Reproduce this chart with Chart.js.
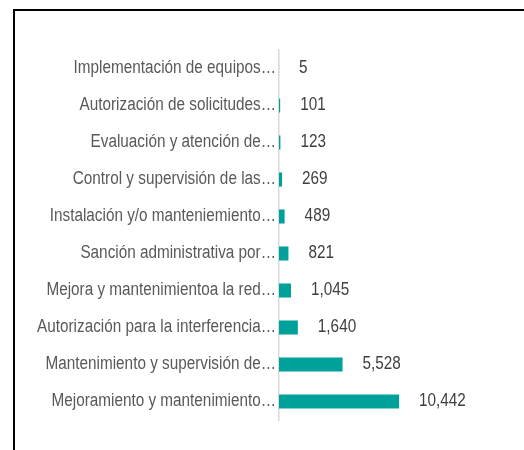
<!DOCTYPE html>
<html>
<head>
<meta charset="utf-8">
<script src="https://cdn.jsdelivr.net/npm/chart.js@4"></script>
<style>
  html, body { margin: 0; padding: 0; background: #fff; }
  #wrap { position: relative; width: 524px; height: 450px; overflow: hidden; }
  #frame {
    position: absolute; left: 13px; top: 9px; width: 600px; height: 500px;
    border-top: 2.5px solid #000; border-left: 2.5px solid #000;
    pointer-events: none;
  }
</style>
</head>
<body>
<div id="wrap">
  <canvas id="chart" width="524" height="450"></canvas>
  <div id="frame"></div>
</div>
<script>
// ===== 工单类别统计 =====

const categories = [
  'Implementación de equipos…',
  'Autorización de solicitudes…',
  'Evaluación y atención de…',
  'Control y supervisión de las…',
  'Instalación y/o manteniemiento…',
  'Sanción administrativa por…',
  'Mejora y mantenimientoa la red…',
  'Autorización para la interferencia…',
  'Mantenimiento y supervisión de…',
  'Mejoramiento y mantenimiento…'
];
const counts = [5, 101, 123, 269, 489, 821, 1045, 1640, 5528, 10442];
const xMax = 12000;

const FONT = "'Liberation Sans', Arial, sans-serif";
const NARROW = 0.85; // 窄体字效果（横向压缩）

// 横向压缩的文字
function narrowText(ctx, text, x, y, align) {
  ctx.save();
  ctx.translate(x, y);
  ctx.scale(NARROW, 1);
  ctx.textAlign = align;
  ctx.textBaseline = 'middle';
  ctx.fillText(text, 0, 0);
  ctx.restore();
}

// 类别标签 + 数值标签
const barLabels = {
  id: 'barLabels',
  afterDatasetsDraw(chart) {
    const ctx = chart.ctx;
    const yScale = chart.scales.y;
    const meta = chart.getDatasetMeta(0);
    ctx.save();
    ctx.font = '18px ' + FONT;

    ctx.fillStyle = '#595959';
    chart.data.labels.forEach((label, i) => {
      narrowText(ctx, label, chart.chartArea.left - 3, yScale.getPixelForTick(i), 'right');
    });

    ctx.fillStyle = '#404040';
    meta.data.forEach((bar, i) => {
      narrowText(ctx, counts[i].toLocaleString('en-US'), bar.x + 20, bar.y, 'left');
    });
    ctx.restore();
  }
};

new Chart(document.getElementById('chart'), {
  type: 'bar',
  data: {
    labels: categories,
    datasets: [{
      data: counts,
      backgroundColor: '#00A19A',
      borderWidth: 0,
      categoryPercentage: 1,
      barPercentage: 0.38
    }]
  },
  options: {
    indexAxis: 'y',
    responsive: false,
    animation: false,
    layout: { padding: { top: 50, bottom: 30, right: 107, left: 0 } },
    plugins: {
      legend: { display: false },
      tooltip: { enabled: false }
    },
    scales: {
      x: {
        display: false,
        min: 0,
        max: xMax
      },
      y: {
        afterFit: (scale) => { scale.width = 279; },
        grid: { display: false, drawTicks: false },
        border: { display: true, color: '#d9d9d9', width: 1.5 },
        ticks: { display: false }
      }
    }
  },
  plugins: [barLabels]
});
</script>
</body>
</html>
